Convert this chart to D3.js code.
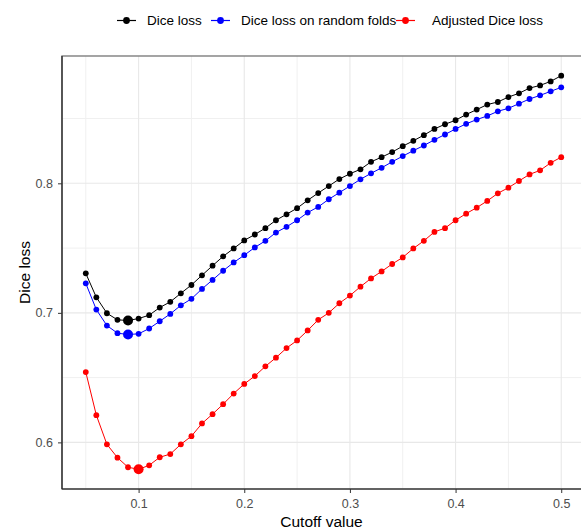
<!DOCTYPE html>
<html><head><meta charset="utf-8">
<script src="https://cdn.jsdelivr.net/npm/d3@7"></script>
<style>body{margin:0;background:#fff;} svg{display:block;font-family:"Liberation Sans",Arial,sans-serif;}</style>
</head><body>
<svg id="c" width="581" height="531"></svg>
<script>
const cutoffs = d3.range(46).map(i => +(0.05 + i*0.01).toFixed(2));
const diceLoss = [0.7305,0.712,0.6997,0.6946,0.6941,0.6956,0.6982,0.7041,0.7085,0.7151,0.7215,0.729,0.7364,0.7436,0.7497,0.7559,
  0.7605,0.7654,0.7715,0.7761,0.7808,0.7869,0.7925,0.7979,0.8033,0.8074,0.8108,0.8166,0.8202,0.8241,0.8287,
  0.8328,0.8372,0.842,0.8456,0.8487,0.8531,0.8569,0.8608,0.8628,0.8666,0.8695,0.8735,0.8756,0.8787,0.8831];
const diceRandom = [0.7228,0.7025,0.6902,0.6843,0.6833,0.6838,0.6879,0.6935,0.6992,0.7058,0.7108,0.7185,0.7254,0.7325,0.7389,0.7445,
  0.7505,0.7556,0.762,0.7664,0.7715,0.7774,0.7818,0.7877,0.7928,0.7979,0.8031,0.8077,0.812,0.8166,0.821,
  0.8252,0.8292,0.8336,0.8377,0.842,0.8459,0.8492,0.852,0.8556,0.8579,0.8615,0.8651,0.8679,0.871,0.8741];
const diceAdjusted = [0.6543,0.621,0.5985,0.5882,0.5808,0.5792,0.5823,0.5885,0.591,0.5985,0.6048,0.6146,0.6218,0.6295,0.6377,0.6451,
  0.6512,0.6587,0.6654,0.6728,0.6787,0.6864,0.6946,0.7,0.7074,0.7133,0.7202,0.7266,0.732,0.7377,0.7428,
  0.7497,0.7556,0.7625,0.7654,0.7715,0.7766,0.7812,0.7864,0.7923,0.7966,0.8018,0.8069,0.81,0.8158,0.8202];
const seriesNames = ["Dice loss","Dice loss on random folds","Adjusted Dice loss"];
const seriesColors = ["#000000","#0000ff","#ff0000"];
const xTicks = [0.1,0.2,0.3,0.4,0.5];
const yTicks = [0.6,0.7,0.8];
const xMinor = [0.05,0.15,0.25,0.35,0.45];
const yMinor = [0.65,0.75,0.85];

const series = [diceLoss, diceRandom, diceAdjusted];
const svg = d3.select("#c");
const P = {l:62, r:585, t:56, b:489};
const allV = series.flat();
const yMin = d3.min(allV), yMax = d3.max(allV), yr = yMax - yMin;
const x = d3.scaleLinear().domain([0.05 - 0.0225, 0.5 + 0.0225]).range([P.l, P.r]);
const y = d3.scaleLinear().domain([yMin - 0.05*yr, yMax + 0.05*yr]).range([P.b, P.t]);

const g = svg.append("g");
// grid
g.selectAll(".gxm").data(xMinor).join("line").attr("x1",d=>x(d)).attr("x2",d=>x(d)).attr("y1",P.t).attr("y2",P.b).attr("stroke","#f0f0f0").attr("stroke-width",1);
g.selectAll(".gym").data(yMinor).join("line").attr("y1",d=>y(d)).attr("y2",d=>y(d)).attr("x1",P.l).attr("x2",P.r).attr("stroke","#f0f0f0").attr("stroke-width",1);
g.selectAll(".gx").data(xTicks).join("line").attr("x1",d=>x(d)).attr("x2",d=>x(d)).attr("y1",P.t).attr("y2",P.b).attr("stroke","#e8e8e8").attr("stroke-width",1.1);
g.selectAll(".gy").data(yTicks).join("line").attr("y1",d=>y(d)).attr("y2",d=>y(d)).attr("x1",P.l).attr("x2",P.r).attr("stroke","#e8e8e8").attr("stroke-width",1.1);

// lines & points
const line = d3.line().x((d,i)=>x(cutoffs[i])).y(d=>y(d));
series.forEach((s,k)=>{
  g.append("path").datum(s).attr("d",line).attr("fill","none").attr("stroke",seriesColors[k]).attr("stroke-width",1);
  const mi = d3.minIndex(s);
  g.selectAll(null).data(s).join("circle")
    .attr("cx",(d,i)=>x(cutoffs[i])).attr("cy",d=>y(d))
    .attr("r",(d,i)=> i===mi ? 5 : 2.9).attr("fill",seriesColors[k]);
});

// panel border
svg.append("rect").attr("x",P.l).attr("y",P.t).attr("width",P.r-P.l).attr("height",P.b-P.t).attr("fill","none").attr("stroke","#7f7f7f").attr("stroke-width",1.4);
svg.append("line").attr("x1",P.l).attr("x2",P.l).attr("y1",P.t).attr("y2",P.b).attr("stroke","#222").attr("stroke-width",1.2);
svg.append("line").attr("x1",P.l).attr("x2",P.r).attr("y1",P.b).attr("y2",P.b).attr("stroke","#222").attr("stroke-width",1.2);

// axes
const xa = svg.append("g").attr("transform",`translate(0,${P.b})`).call(d3.axisBottom(x).tickValues(xTicks).tickSize(4).tickPadding(6).tickFormat(d3.format(".1f")));
const ya = svg.append("g").attr("transform",`translate(${P.l},0)`).call(d3.axisLeft(y).tickValues(yTicks).tickSize(4).tickPadding(5).tickFormat(d3.format(".1f")));
[xa,ya].forEach(a=>{
  a.select(".domain").remove();
  a.selectAll(".tick line").attr("stroke","#333");
  a.selectAll(".tick text").attr("fill","#4d4d4d").style("font-size","12.5px").style("font-family","'Liberation Sans',Arial,sans-serif");
});

svg.append("text").attr("x",(P.l+P.r)/2 - 2).attr("y",527).attr("text-anchor","middle").style("font-size","15.5px").attr("fill","#000").text("Cutoff value");
svg.append("text").attr("transform",`translate(30,${(P.t+P.b)/2}) rotate(-90)`).attr("text-anchor","middle").style("font-size","15.5px").attr("fill","#000").text("Dice loss");

// legend
const legX = [126.5, 220.5, 405.5];
const legTX = [147, 241, 432];
const lg = svg.append("g");
seriesNames.forEach((n,k)=>{
  lg.append("line").attr("x1",legX[k]-9.5).attr("x2",legX[k]+9.5).attr("y1",20.5).attr("y2",20.5).attr("stroke",seriesColors[k]).attr("stroke-width",1.2);
  lg.append("circle").attr("cx",legX[k]).attr("cy",20.5).attr("r",3.4).attr("fill",seriesColors[k]);
  lg.append("text").attr("x",legTX[k]).attr("y",25.3).style("font-size","13.5px").attr("fill","#000").text(n);
});
</script>
</body></html>
